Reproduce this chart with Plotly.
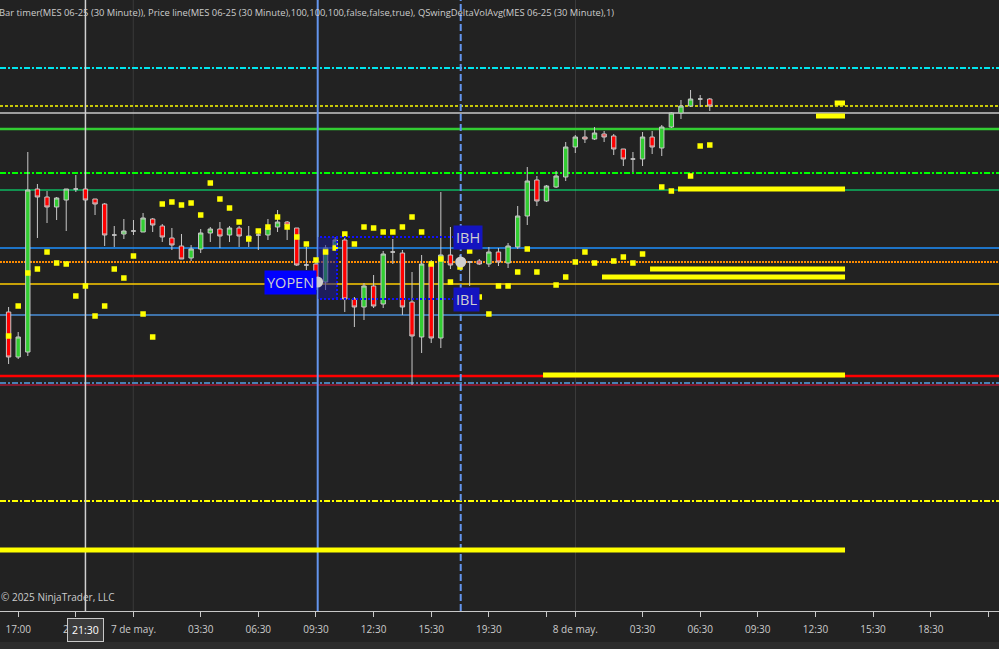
import plotly.graph_objects as go

# MES 06-25, 30 minute bars, bar index 0 = first visible bar
bars = list(range(74))

opens = [5722.00, 5710.75, 5712.00, 5752.75, 5750.75, 5748.25, 5750.00, 5752.75, 5752.75, 5750.25,
         5749.00, 5741.25, 5741.50, 5742.25, 5742.00, 5745.25, 5743.50, 5740.50, 5738.50, 5735.50,
         5737.75, 5741.75, 5742.75, 5741.25, 5743.00, 5740.25, 5741.25, 5741.25, 5743.25, 5744.50,
         5743.00, 5733.75, 5734.00, 5729.50, 5738.75, 5740.00, 5725.25, 5723.25, 5728.50, 5724.00,
         5737.00, 5736.75, 5724.50, 5715.75, 5734.00, 5715.50, 5736.25, 5734.50, 5734.50, 5734.75,
         5734.00, 5737.00, 5734.25, 5738.25, 5746.00, 5755.00, 5749.75, 5753.25, 5755.75, 5763.25,
         5765.75, 5765.25, 5766.50, 5766.00, 5762.75, 5760.25, 5760.25, 5765.75, 5763.00, 5768.25,
         5771.75, 5773.50, 5775.25, 5775.25]
highs = [5723.25, 5717.00, 5762.00, 5754.00, 5752.25, 5750.75, 5752.75, 5756.25, 5753.00, 5750.25,
         5749.25, 5743.50, 5745.25, 5745.00, 5746.75, 5745.50, 5744.00, 5743.00, 5741.50, 5738.75,
         5742.75, 5743.25, 5744.50, 5743.50, 5743.50, 5743.50, 5742.50, 5745.25, 5747.50, 5744.75,
         5743.00, 5738.25, 5735.00, 5738.75, 5740.75, 5740.75, 5725.75, 5729.25, 5731.25, 5737.25,
         5740.25, 5737.50, 5732.00, 5736.25, 5735.00, 5752.00, 5743.25, 5736.25, 5734.75, 5735.25,
         5738.25, 5738.00, 5739.25, 5748.50, 5758.25, 5756.00, 5753.75, 5757.25, 5764.50, 5766.25,
         5767.50, 5768.25, 5767.25, 5766.50, 5762.75, 5762.00, 5767.00, 5767.25, 5768.75, 5772.00,
         5775.00, 5777.50, 5776.25, 5775.50]
lows = [5709.00, 5710.25, 5711.00, 5740.50, 5744.25, 5745.00, 5742.25, 5752.00, 5750.00, 5746.25,
        5738.50, 5738.25, 5740.25, 5741.25, 5742.00, 5742.00, 5739.50, 5737.50, 5735.25, 5734.75,
        5736.75, 5739.50, 5738.00, 5739.50, 5738.25, 5738.25, 5737.50, 5740.00, 5742.00, 5740.00,
        5733.50, 5732.50, 5727.50, 5727.50, 5737.50, 5722.00, 5718.25, 5720.00, 5723.00, 5723.00,
        5734.00, 5721.25, 5703.75, 5711.75, 5714.25, 5713.00, 5732.75, 5733.00, 5728.50, 5733.75,
        5733.25, 5733.50, 5733.00, 5737.75, 5743.75, 5748.50, 5749.50, 5753.00, 5754.75, 5761.75,
        5764.25, 5765.00, 5764.50, 5761.25, 5758.50, 5757.00, 5758.50, 5761.50, 5761.00, 5768.00,
        5770.25, 5773.25, 5773.25, 5772.25]
closes = [5710.75, 5715.75, 5752.50, 5750.75, 5748.25, 5750.50, 5752.75, 5752.75, 5750.00, 5749.00,
          5741.25, 5741.25, 5742.25, 5742.25, 5745.50, 5743.75, 5740.75, 5738.75, 5735.25, 5737.75,
          5741.75, 5742.75, 5741.00, 5743.00, 5741.00, 5741.00, 5741.25, 5743.00, 5744.50, 5743.75,
          5733.75, 5733.75, 5729.25, 5738.00, 5740.00, 5725.25, 5723.25, 5728.50, 5723.50, 5736.50,
          5737.00, 5723.25, 5716.00, 5734.00, 5715.50, 5736.25, 5733.75, 5734.25, 5734.50, 5734.00,
          5737.00, 5734.50, 5738.50, 5746.00, 5754.75, 5749.75, 5753.50, 5756.00, 5763.25, 5765.75,
          5765.25, 5766.75, 5765.75, 5762.75, 5760.25, 5760.25, 5765.75, 5763.25, 5768.25, 5771.75,
          5773.50, 5775.25, 5775.25, 5773.50]

# QSwingDeltaVolAvg markers (yellow squares)
delta_avg = [5716.00, 5723.50, 5731.75, 5732.75, 5737.00, 5734.25, 5734.00, 5726.00, 5728.50, 5721.00,
             5723.50, 5732.75, 5730.50, 5736.00, 5721.50, 5715.75, 5749.00, 5749.50, 5748.75, 5749.25,
             5746.25, 5754.25, 5750.25, 5748.00, 5744.50, 5740.25, 5742.25, 5743.25, 5745.75, 5743.25,
             5740.75, 5739.00, 5735.00, 5737.00, 5738.00, 5741.50, 5739.00, 5743.25, 5743.00, 5742.00,
             5742.00, 5743.25, 5745.75, 5742.00, 5734.00, 5735.25, 5729.50, 5733.25, 5737.25, 5725.75,
             5721.50, 5728.50, 5728.50, 5732.00, 5737.75, 5732.00, None, 5728.75, 5730.75, 5734.50,
             5737.00, 5734.25, None, 5734.75, 5735.75, 5734.25, 5736.50, None, 5753.25, 5752.25,
             None, 5756.00, 5763.50, 5763.75]

# horizontal reference levels (full width)
level_prices = [5783.00, 5773.50, 5771.75, 5767.75, 5756.75, 5752.50, 5738.00,
                5734.50, 5729.00, 5721.25, 5706.00, 5704.25, 5703.75, 5674.75]

# thick yellow zones: price, first bar; all end at zone_end
zone_prices = [5774.25, 5771.00, 5752.75, 5732.75, 5730.75, 5706.25, 5662.50]
zone_start = [86.0, 84.06, 69.69, 66.78, 61.78, 55.64, -0.9]
zone_end = 87.08

# initial balance / yesterday open
ib_high = 5740.75
ib_low = 5725.25
ib_start = 32.42
ib_end = 46.27
ib_shade_end = 34.19
yopen_bar = 32.17
yopen_price = 5729.5
ib_mark_bar = 47.07
ib_mark_price = 5734.5

# vertical markers
crosshair_bar = 8.0
session_bar = 32.18
ib_close_bar = 47.07
day_breaks = [12.98, 59.02]

tick_bars = [1, 7, 13, 20, 26, 32, 38, 44, 50, 56, 59, 66, 72, 78, 84, 90, 96, 102]
tick_labels = ["17:00", "20:00", "7 de may.", "03:30", "06:30", "09:30", "12:30", "15:30",
               "19:30", "", "8 de may.", "03:30", "06:30", "09:30", "12:30", "15:30", "18:30", ""]

BG = "#222222"
TXT = "#cccccc"
FONT = "Open Sans"
DASHDOT = "6px,2px,2px,2px"

fig = go.Figure()

fig.add_trace(go.Candlestick(
    x=bars, open=opens, high=highs, low=lows, close=closes,
    increasing=dict(fillcolor="#32cd32", line=dict(color="#c8c8c8", width=1)),
    decreasing=dict(fillcolor="#ff0000", line=dict(color="#c8c8c8", width=1)),
    whiskerwidth=0, hoverinfo="skip", showlegend=False
))

# shaded start of the IB range (dims the candles under it)
fig.add_trace(go.Scatter(
    x=[ib_start - 0.22, ib_shade_end, ib_shade_end, ib_start - 0.22, ib_start - 0.22],
    y=[ib_high, ib_high, ib_low, ib_low, ib_high],
    mode="lines", fill="toself", fillcolor="rgba(25,25,140,0.55)",
    line=dict(width=0), hoverinfo="skip", showlegend=False
))

fig.add_trace(go.Scatter(
    x=bars, y=delta_avg, mode="markers",
    marker=dict(symbol="square", size=5.5, color="#ffff00", line=dict(width=0)),
    hoverinfo="skip", showlegend=False
))

fig.add_trace(go.Scatter(
    x=[yopen_bar, ib_mark_bar], y=[yopen_price, ib_mark_price], mode="markers",
    marker=dict(size=11, color="#cfcfcf", line=dict(width=0)),
    hoverinfo="skip", showlegend=False
))

level_styles = [
    ("#00e5ee", 2, DASHDOT),
    ("#ffff00", 1.5, "3px,2px"),
    ("#c8c8c8", 1.5, "solid"),
    ("#32cd32", 2.5, "solid"),
    ("#00ff00", 2, DASHDOT),
    ("#00ff7f", 1.2, "solid"),
    ("#1e90ff", 1.5, "solid"),
    ("#ff8c00", 2, "2px,1px"),
    ("#ffcc00", 1.5, "solid"),
    ("#4a8fd8", 1.5, "solid"),
    ("#ff0000", 2.5, "solid"),
    ("#4682b4", 2, DASHDOT),
    ("#dc143c", 1, "solid"),
    ("#ffff00", 2, DASHDOT),
]

shapes = []
for x in day_breaks:
    shapes.append(dict(type="line", xref="x", x0=x, x1=x, yref="paper", y0=0, y1=1,
                       line=dict(color="#3a3a3a", width=1), layer="below"))
for price, (color, width, dash) in zip(level_prices, level_styles):
    shapes.append(dict(type="line", xref="paper", x0=0, x1=1, yref="y", y0=price, y1=price,
                       line=dict(color=color, width=width, dash=dash), layer="below"))
for price, start in zip(zone_prices, zone_start):
    shapes.append(dict(type="line", xref="x", x0=start, x1=zone_end, yref="y", y0=price, y1=price,
                       line=dict(color="#ffff00", width=5), layer="below"))

# vertical lines
shapes.append(dict(type="line", xref="x", x0=crosshair_bar, x1=crosshair_bar, yref="paper", y0=0, y1=1,
                   line=dict(color="#d0d0d0", width=1.5), layer="below"))
shapes.append(dict(type="line", xref="x", x0=session_bar, x1=session_bar, yref="paper", y0=0, y1=1,
                   line=dict(color="#6495ed", width=2), layer="below"))
shapes.append(dict(type="line", xref="x", x0=ib_close_bar, x1=ib_close_bar, yref="paper", y0=0, y1=1,
                   line=dict(color="#6495ed", width=2, dash="7px,3px"), layer="below"))

# IB dotted box
for price in (ib_high, ib_low):
    shapes.append(dict(type="line", xref="x", x0=ib_start, x1=ib_end, yref="y", y0=price, y1=price,
                       line=dict(color="#1010ff", width=2, dash="2px,2px"), layer="above"))
shapes.append(dict(type="line", xref="x", x0=ib_shade_end, x1=ib_shade_end, yref="y", y0=ib_low, y1=ib_high,
                   line=dict(color="#1010ff", width=2, dash="2px,2px"), layer="above"))

# strip under the time axis
shapes.append(dict(type="rect", xref="paper", x0=0, x1=1, yref="paper", y0=-0.0507, y1=-0.07,
                   fillcolor="#2c2c2c", line=dict(width=0), layer="below"))

annotations = [
    dict(text="Bar timer(MES 06-25 (30 Minute)), Price line(MES 06-25 (30 Minute),100,100,100,false,false,true), "
              "QSwingDeltaVolAvg(MES 06-25 (30 Minute),1)",
         xref="paper", yref="paper", x=0, y=1, xanchor="left", yanchor="top", xshift=-3, yshift=-4,
         showarrow=False, font=dict(family=FONT, size=9.4, color=TXT)),
    dict(text="© 2025 NinjaTrader, LLC", xref="paper", yref="paper", x=0, y=0.0229,
         xanchor="left", yanchor="middle", xshift=-1, showarrow=False,
         font=dict(family=FONT, size=10, color=TXT)),
    dict(text="YOPEN", xref="x", yref="y", x=yopen_bar, y=yopen_price, xanchor="right", yanchor="middle",
         xshift=-1, showarrow=False, bgcolor="#0000ff", borderpad=2,
         font=dict(family=FONT, size=14.5, color="#d0d0d0")),
    dict(text="IBH", xref="x", yref="y", x=ib_end, y=ib_high, xanchor="left", yanchor="middle",
         showarrow=False, bgcolor="#1414c0", borderpad=2,
         font=dict(family=FONT, size=14.5, color="#d0d0d0")),
    dict(text="IBL", xref="x", yref="y", x=ib_end, y=ib_low, xanchor="left", yanchor="middle",
         showarrow=False, bgcolor="#1414c0", borderpad=2,
         font=dict(family=FONT, size=14.5, color="#d0d0d0")),
    dict(text="21:30", xref="x", yref="paper", x=crosshair_bar, y=-0.0303, xanchor="center", yanchor="middle",
         showarrow=False, bgcolor="#3c3c3c", bordercolor="#c8c8c8", borderwidth=1, borderpad=4,
         font=dict(family=FONT, size=10.5, color="#ffffff")),
]

fig.update_layout(
    width=999, height=649, autosize=False,
    margin=dict(l=0, r=0, t=0, b=38, pad=0),
    paper_bgcolor=BG, plot_bgcolor=BG,
    showlegend=False, boxgap=0.35,
    shapes=shapes, annotations=annotations,
    xaxis=dict(range=[-0.895, 103.11], showgrid=False, zeroline=False, rangeslider=dict(visible=False),
               tickmode="array", tickvals=tick_bars, ticktext=tick_labels,
               showline=True, linecolor="#c8c8c8", linewidth=1,
               ticks="outside", ticklen=5, tickcolor="#c8c8c8", tickwidth=1,
               ticklabelstandoff=4,
               tickfont=dict(family=FONT, size=10, color=TXT), fixedrange=True),
    yaxis=dict(range=[5647.25, 5800], visible=False, showgrid=False, zeroline=False, fixedrange=True),
)

fig.write_html("out.html", config={"displayModeBar": False},
               post_script="document.body.style.margin='0px';document.body.style.overflow='hidden';")
